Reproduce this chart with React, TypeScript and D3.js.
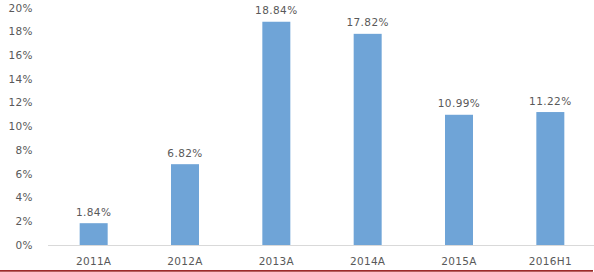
import React from "react";
import * as d3 from "d3";

const categories = ["2011A", "2012A", "2013A", "2014A", "2015A", "2016H1"];
const values = [1.84, 6.82, 18.84, 17.82, 10.99, 11.22];
const yTicks = [0, 2, 4, 6, 8, 10, 12, 14, 16, 18, 20];

const W = 594;
const H = 272;
const FONT = "'DejaVu Sans', Verdana, sans-serif";
const TEXT = "#595959";

export default function App() {
  const y = d3.scaleLinear().domain([0, 20]).range([245, 8]);
  const p = 1 - 28 / (548 / categories.length);
  const x = d3
    .scaleBand<string>()
    .domain(categories)
    .range([48, 596])
    .paddingInner(p)
    .paddingOuter(p / 2);

  return (
    <svg
      width={W}
      height={H}
      style={{ position: "absolute", left: 0, top: 0, background: "#fff" }}
    >
      <rect x={0} y={0} width={W} height={H} fill="#fff" />
      {yTicks.map((t) => (
        <text
          key={t}
          x={33}
          y={y(t)}
          dy="0.35em"
          textAnchor="end"
          fontFamily={FONT}
          fontSize={10.5}
          letterSpacing={0.4}
          fill={TEXT}
        >
          {t}%
        </text>
      ))}
      {categories.map((c, i) => (
        <g key={c}>
          <rect
            x={x(c)}
            y={y(values[i])}
            width={x.bandwidth()}
            height={y(0) - y(values[i])}
            fill="#6FA4D7"
          />
          <text
            x={(x(c) as number) + x.bandwidth() / 2}
            y={y(values[i]) - 7.5}
            textAnchor="middle"
            fontFamily={FONT}
            fontSize={10.5}
            letterSpacing={0.4}
            fill={TEXT}
          >
            {values[i].toFixed(2)}%
          </text>
          <text
            x={(x(c) as number) + x.bandwidth() / 2}
            y={264.5}
            textAnchor="middle"
            fontFamily={FONT}
            fontSize={10.5}
            letterSpacing={0.3}
            fill={TEXT}
          >
            {c}
          </text>
        </g>
      ))}
      <line x1={48} x2={594} y1={245.5} y2={245.5} stroke="#D9D9D9" strokeWidth={1} />
      <line x1={0} x2={593} y1={270.8} y2={270.8} stroke="#9E2A2A" strokeWidth={1.8} />
    </svg>
  );
}
